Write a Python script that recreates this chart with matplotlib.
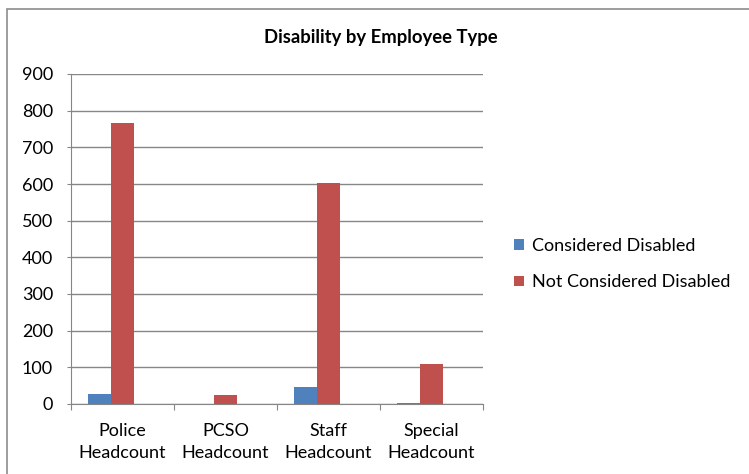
import matplotlib
matplotlib.use("Agg")
import matplotlib.pyplot as plt
from matplotlib.patches import Rectangle
import numpy as np

categories = ["Police\nHeadcount", "PCSO\nHeadcount", "Staff\nHeadcount", "Special\nHeadcount"]
considered = [28, 0, 47, 4]
not_considered = [766, 25, 603, 109]
yticks = [0, 100, 200, 300, 400, 500, 600, 700, 800, 900]

blue = "#4F81BD"
red = "#C0504D"
grey = "#868686"

plt.rcParams['font.family'] = ['Lato', 'DejaVu Sans']

fig = plt.figure(figsize=(7.49, 4.74), dpi=100)
# outer chart frame (cut off on the right and bottom)
fig.patches.append(Rectangle((7 / 749, -0.1), 1.2, 1 - 9 / 474 + 0.1, transform=fig.transFigure,
                             fill=False, edgecolor="#8c8c8c", linewidth=1.2))

ax = fig.add_axes([71 / 749, 1 - 404 / 474, (483 - 71) / 749, (404 - 74) / 474])

# excel clustered layout: 3 slots per category, gap width 150%
w = 1 / 4.5
x = np.arange(len(categories))
ax.bar(x - w, considered, w, color=blue, label="Considered Disabled", zorder=3)
ax.bar(x, not_considered, w, color=red, label="Not Considered Disabled", zorder=3)

ax.set_xlim(-0.5, len(categories) - 0.5)
ax.set_ylim(0, 900)
ax.set_yticks(yticks)
ax.tick_params(axis='y', labelsize=13, length=3, color=grey, pad=10)
ax.yaxis.grid(True, color=grey, linewidth=1)
ax.set_axisbelow(True)

ax.set_xticks(np.arange(len(categories) + 1) - 0.5)
ax.set_xticklabels([])
ax.set_xticks(x, minor=True)
ax.set_xticklabels(categories, minor=True, fontsize=13, linespacing=1.45)
ax.tick_params(axis='x', which='major', length=4, color=grey, direction='out')
ax.tick_params(axis='x', which='minor', length=0, pad=14)

for s in ["top", "right"]:
    ax.spines[s].set_visible(False)
ax.spines["left"].set_color(grey)
ax.spines["bottom"].set_color(grey)

fig.text(381 / 749, 1 - 37 / 474, "Disability by Employee Type", ha="center", va="center",
         fontsize=13.3, fontweight="bold")

ax.legend(loc="center left", bbox_to_anchor=(498 / 749, 1 - 264 / 474), bbox_transform=fig.transFigure,
          frameon=False, fontsize=13, handlelength=0.55, handleheight=0.55,
          handletextpad=0.45, labelspacing=1.15)

fig.savefig("out.png", dpi=100)
